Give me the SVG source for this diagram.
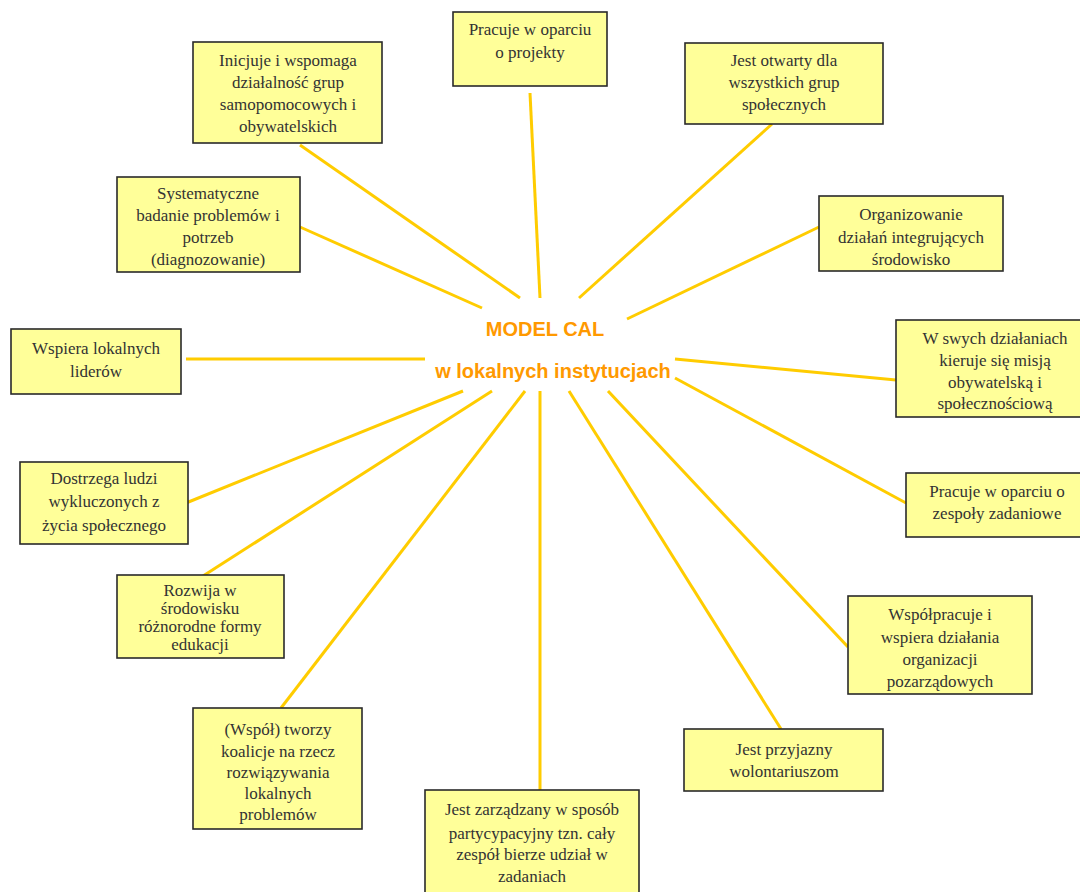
<svg xmlns="http://www.w3.org/2000/svg" width="1080" height="892" viewBox="0 0 1080 892">
<style>
.bg{fill:#ffffff}
.box{fill:#FFFF99;stroke:#2a2a2a;stroke-width:1.6}
.t{font-family:"Liberation Serif","Times New Roman",serif;font-size:17px;fill:#333333;text-anchor:middle}
.c{font-family:"Liberation Sans",Arial,sans-serif;font-size:20px;font-weight:bold;fill:#FF9900;text-anchor:middle}
.ln{stroke:#FFCC00;stroke-width:3;fill:none;stroke-linecap:butt}
</style>
<rect class="bg" x="0" y="0" width="1080" height="892"/>
<g id="connectors">
<line class="ln" x1="540" y1="298" x2="530" y2="93"/>
<line class="ln" x1="520" y1="298" x2="300" y2="145"/>
<line class="ln" x1="579" y1="298" x2="772" y2="124"/>
<line class="ln" x1="482" y1="308" x2="300" y2="227"/>
<line class="ln" x1="627" y1="319" x2="819" y2="227"/>
<line class="ln" x1="425" y1="359" x2="186" y2="359"/>
<line class="ln" x1="675" y1="359" x2="896" y2="380"/>
<line class="ln" x1="675" y1="378" x2="906" y2="503"/>
<line class="ln" x1="463" y1="391" x2="186" y2="503"/>
<line class="ln" x1="492" y1="391" x2="203" y2="576"/>
<line class="ln" x1="525" y1="391" x2="281" y2="708"/>
<line class="ln" x1="540" y1="391" x2="540" y2="790"/>
<line class="ln" x1="569" y1="391" x2="781" y2="729"/>
<line class="ln" x1="608" y1="391" x2="848" y2="647"/>
</g>
<g id="center">
<text class="c" x="545" y="336">MODEL CAL</text>
<text class="c" x="553" y="378">w lokalnych instytucjach</text>
</g>
<g id="n1">
<rect class="box" x="453" y="12" width="154" height="74"/>
<text class="t" x="530" y="35">Pracuje w oparciu</text>
<text class="t" x="530" y="58">o projekty</text>
</g>
<g id="n2">
<rect class="box" x="193" y="42" width="189" height="101"/>
<text class="t" x="288" y="66">Inicjuje i wspomaga</text>
<text class="t" x="288" y="88">działalność grup</text>
<text class="t" x="288" y="110">samopomocowych i</text>
<text class="t" x="288" y="132">obywatelskich</text>
</g>
<g id="n3">
<rect class="box" x="685" y="43" width="198" height="81"/>
<text class="t" x="784" y="66">Jest otwarty dla</text>
<text class="t" x="784" y="88">wszystkich grup</text>
<text class="t" x="784" y="110">społecznych</text>
</g>
<g id="n4">
<rect class="box" x="117" y="177" width="183" height="95"/>
<text class="t" x="208" y="199">Systematyczne</text>
<text class="t" x="208" y="221">badanie problemów i</text>
<text class="t" x="208" y="243">potrzeb</text>
<text class="t" x="208" y="265">(diagnozowanie)</text>
</g>
<g id="n5">
<rect class="box" x="819" y="196" width="184" height="75"/>
<text class="t" x="911" y="220">Organizowanie</text>
<text class="t" x="911" y="243">działań integrujących</text>
<text class="t" x="911" y="265">środowisko</text>
</g>
<g id="n6">
<rect class="box" x="11" y="329" width="170" height="65"/>
<text class="t" x="96" y="354">Wspiera lokalnych</text>
<text class="t" x="96" y="377">liderów</text>
</g>
<g id="n7">
<rect class="box" x="896" y="320" width="190" height="97"/>
<text class="t" x="995" y="344">W swych działaniach</text>
<text class="t" x="995" y="366">kieruje się misją</text>
<text class="t" x="995" y="388">obywatelską i</text>
<text class="t" x="995" y="409">społecznościową</text>
</g>
<g id="n8">
<rect class="box" x="20" y="462" width="168" height="82"/>
<text class="t" x="104" y="484">Dostrzega ludzi</text>
<text class="t" x="104" y="507">wykluczonych z</text>
<text class="t" x="104" y="531">życia społecznego</text>
</g>
<g id="n9">
<rect class="box" x="906" y="473" width="180" height="64"/>
<text class="t" x="997" y="497">Pracuje w oparciu o</text>
<text class="t" x="997" y="519">zespoły zadaniowe</text>
</g>
<g id="n10">
<rect class="box" x="117" y="575" width="167" height="83"/>
<text class="t" x="200" y="596">Rozwija w</text>
<text class="t" x="200" y="614">środowisku</text>
<text class="t" x="200" y="632">różnorodne formy</text>
<text class="t" x="200" y="650">edukacji</text>
</g>
<g id="n11">
<rect class="box" x="848" y="596" width="184" height="98"/>
<text class="t" x="940" y="620">Współpracuje i</text>
<text class="t" x="940" y="643">wspiera działania</text>
<text class="t" x="940" y="665">organizacji</text>
<text class="t" x="940" y="687">pozarządowych</text>
</g>
<g id="n12">
<rect class="box" x="193" y="708" width="169" height="121"/>
<text class="t" x="278" y="735">(Współ) tworzy</text>
<text class="t" x="278" y="757">koalicje na rzecz</text>
<text class="t" x="278" y="778">rozwiązywania</text>
<text class="t" x="278" y="799">lokalnych</text>
<text class="t" x="278" y="820">problemów</text>
</g>
<g id="n13">
<rect class="box" x="684" y="729" width="199" height="62"/>
<text class="t" x="784" y="755">Jest przyjazny</text>
<text class="t" x="784" y="777">wolontariuszom</text>
</g>
<g id="n14">
<rect class="box" x="425" y="790" width="214" height="106"/>
<text class="t" x="532" y="815">Jest zarządzany w sposób</text>
<text class="t" x="532" y="839">partycypacyjny tzn. cały</text>
<text class="t" x="532" y="860">zespół bierze udział w</text>
<text class="t" x="532" y="882">zadaniach</text>
</g>
</svg>
